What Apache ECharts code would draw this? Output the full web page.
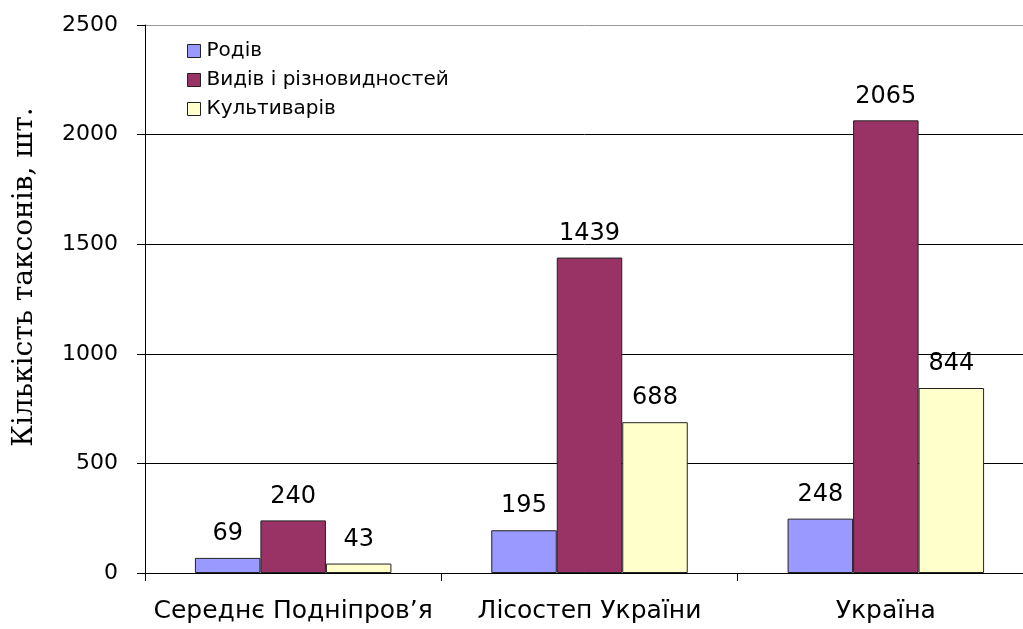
<!DOCTYPE html>
<html><head><meta charset="utf-8">
<script src="https://cdn.jsdelivr.net/npm/echarts@6/dist/echarts.min.js"></script>
<style>html,body{margin:0;padding:0;background:#fff}#c{width:1023px;height:629px}</style>
</head><body><div id="c"></div>
<script>
const categories = ['Середнє Подніпров’я', 'Лісостеп України', 'Україна'];
const rodiv = [69, 195, 248];
const vydiv = [240, 1439, 2065];
const kultyvariv = [43, 688, 844];
const seriesNames = ['Родів', 'Видів і різновидностей', 'Культиварів'];
const yTicks = [0, 500, 1000, 1500, 2000, 2500];
const yTitle = 'Кількість таксонів, шт.';

const SANS = 'DejaVu Sans, Liberation Sans, Arial';
const chart = echarts.init(document.getElementById('c'));
const lbl = {show: true, position: 'top', distance: 12, color: '#000', fontFamily: SANS, fontSize: 24};
const bar = (name, data, color) => ({
  name, type: 'bar', data, barWidth: 65.5, barGap: '0%',
  itemStyle: {color, borderColor: '#222', borderWidth: 1},
  label: lbl
});
chart.setOption({
  animation: false,
  textStyle: {fontFamily: SANS},
  grid: {left: 145, top: 25, bottom: 56, width: 889, outerBoundsMode: 'none', containLabel: false},
  legend: {
    orient: 'vertical', left: 182, top: 36, itemWidth: 13, itemHeight: 13, itemGap: 9,
    icon: 'rect',
    textStyle: {fontSize: 20, color: '#000', fontFamily: SANS, padding: [0,0,0,1]},
    data: seriesNames.map(n => ({name: n, itemStyle: {borderColor: '#222', borderWidth: 1}}))
  },
  graphic: [{
    type: 'text', x: 25, y: 277, rotation: Math.PI / 2,
    style: {text: yTitle, font: '28px "DejaVu Serif", "Liberation Serif", serif', fill: '#000',
      align: 'center', verticalAlign: 'middle'}
  }],
  xAxis: {
    type: 'category', data: categories,
    axisLine: {lineStyle: {color: '#000', width: 1}},
    axisTick: {show: true, interval: 0, length: 8, lineStyle: {color: '#000'}},
    axisLabel: {interval: 0, fontSize: 25, color: '#000', margin: 26, fontFamily: SANS}
  },
  yAxis: {
    type: 'value', min: 0, max: 2500, interval: 500,
    axisLine: {show: true, lineStyle: {color: '#000', width: 1}},
    axisTick: {show: true, length: 8, lineStyle: {color: '#000'}},
    axisLabel: {fontSize: 22, color: '#000', margin: 27, fontFamily: SANS,
      formatter: v => yTicks.includes(v) ? String(v) : ''},
    splitLine: {show: true, lineStyle: {color: ['#000', '#000', '#000', '#000', '#000', '#999'], width: 1}}
  },
  series: [
    bar(seriesNames[0], rodiv, '#9999FF'),
    bar(seriesNames[1], vydiv, '#993366'),
    bar(seriesNames[2], kultyvariv, '#FFFFCC')
  ]
});
</script></body></html>
